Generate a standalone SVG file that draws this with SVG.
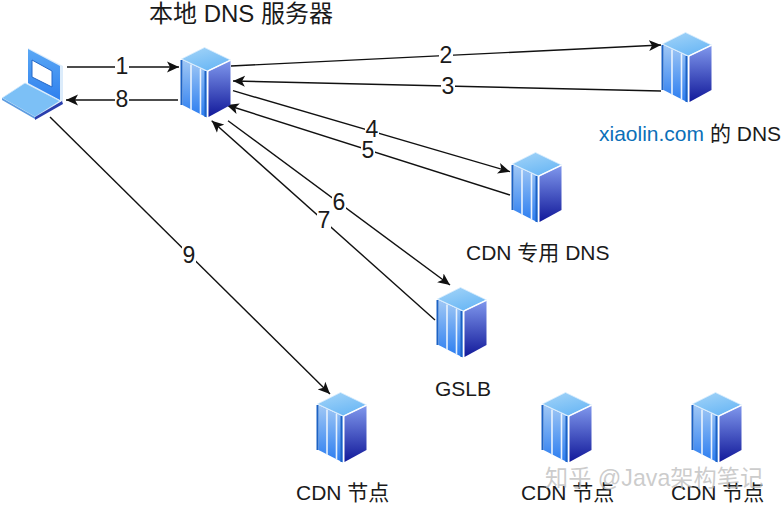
<svg xmlns="http://www.w3.org/2000/svg" width="783" height="510" viewBox="0 0 783 510">
<style>
text{font-family:"Liberation Sans","Noto Sans CJK SC",sans-serif;fill:#1a1a1a}
.t{font-size:21px}
.n{font-size:23px;text-anchor:middle}
.c line{stroke:#111;stroke-width:1.4;fill:none}
.a{marker-end:url(#ah)}
.bg{fill:#fff}
</style>
<defs>
<marker id="ah" markerUnits="userSpaceOnUse" markerWidth="14" markerHeight="12" refX="12" refY="6" orient="auto"><path d="M0,0.5L12,6L0,11.5L3,6Z" fill="#111"/></marker>
<linearGradient id="top" x1="0" y1="0" x2="0.5" y2="1"><stop offset="0" stop-color="#a5d5f8"/><stop offset="1" stop-color="#6cb8f5"/></linearGradient>
<linearGradient id="side" x1="0" y1="0" x2="0" y2="1"><stop offset="0" stop-color="#7f97ec"/><stop offset="1" stop-color="#12199a"/></linearGradient>
<linearGradient id="front" x1="0" y1="0" x2="0" y2="1"><stop offset="0" stop-color="#a0c8f5"/><stop offset="1" stop-color="#2a7cf0"/></linearGradient>
<linearGradient id="scr" x1="0" y1="0" x2="0" y2="1"><stop offset="0" stop-color="#5aa8f5"/><stop offset="1" stop-color="#2f80ee"/></linearGradient>
<g id="srv">
<path d="M1,12L26,24L27,71L1,58Z" fill="#fff"/>
<path d="M2.5,13L27,24.5V70.5L2.5,58Z" fill="url(#front)"/>
<path d="M24.5,0.5L50.5,13L27.5,24L1.5,12Z" fill="url(#top)" stroke="#d8ecfc" stroke-width="0.8"/>
<path d="M28.5,24.5L50.5,14V58L28.5,70Z" fill="url(#side)"/>
<path d="M1.5,13V58M25.5,24V70" stroke="#1c62c4" stroke-width="2" fill="none"/>
<path d="M11,17.5V63M20.5,21.5V67.5" stroke="#e8f2fd" stroke-width="1.6" fill="none"/>
<path d="M27.3,24V71M27.5,24L50.5,13" stroke="#fff" stroke-width="1.1" fill="none"/>
</g>
</defs>
<rect width="783" height="510" fill="#fff"/>
<g id="connectors" class="c">
<line class="a" x1="67" y1="67" x2="179" y2="67"/>
<line class="a" x1="178" y1="100" x2="66" y2="100"/>
<line class="a" x1="231" y1="66" x2="661" y2="45"/>
<line class="a" x1="661" y1="91" x2="233" y2="81"/>
<line class="a" x1="233" y1="90.7" x2="510" y2="171.7"/>
<line class="a" x1="510" y1="195" x2="226.7" y2="105"/>
<line class="a" x1="228" y1="120.7" x2="450" y2="285"/>
<line class="a" x1="435" y1="320" x2="211.7" y2="120.7"/>
<line class="a" x1="50" y1="117" x2="330" y2="394"/>
</g>
<g id="connector-labels">
<rect class="bg" x="115" y="55" width="14" height="22"/><text class="n" x="122" y="74">1</text>
<rect class="bg" x="115" y="89" width="14" height="22"/><text class="n" x="122" y="107">8</text>
<rect class="bg" x="439" y="44" width="14" height="22"/><text class="n" x="446" y="63">2</text>
<rect class="bg" x="441" y="75" width="14" height="22"/><text class="n" x="448" y="94">3</text>
<rect class="bg" x="365" y="120" width="14" height="19"/><text class="n" x="372" y="137">4</text>
<rect class="bg" x="361" y="140" width="14" height="19"/><text class="n" x="368" y="158">5</text>
<rect class="bg" x="332" y="192" width="14" height="21"/><text class="n" x="339" y="210">6</text>
<rect class="bg" x="317" y="210" width="14" height="22"/><text class="n" x="324" y="228">7</text>
<rect class="bg" x="182" y="243" width="14" height="24"/><text class="n" x="189" y="263">9</text>
</g>
<g id="laptop">
<path d="M28,48L63,66V102L28,84Z" fill="#dcecfb"/>
<path d="M28,49L60,66V100L28,83Z" fill="url(#scr)"/>
<path d="M32,60L52,71V87L32,77Z" fill="#fff" stroke="#2468c8" stroke-width="1"/>
<path d="M2,98L25,83L60,101L35,117Z" fill="#7cc0f6" stroke="#cfe7fb" stroke-width="0.8"/>
<path d="M35,117L62,101L63,104L35,120Z" fill="#2a3fae"/>
<path d="M2,98L35,117V119L2,100Z" fill="#5d9ce0"/>
</g>
<g id="local-dns"><use href="#srv" x="180" y="47"/><text x="149" y="22" font-size="24">本地 DNS 服务器</text></g>
<g id="xiaolin-dns"><use href="#srv" x="661" y="32"/><text class="t" x="599" y="141"><tspan style="fill:#0b6fb8">xiaolin.com</tspan> 的 DNS</text></g>
<g id="cdn-dns"><use href="#srv" x="511" y="152"/><text class="t" x="466" y="260">CDN 专用 DNS</text></g>
<g id="gslb"><use href="#srv" x="436" y="287"/><text class="t" x="435" y="396">GSLB</text></g>
<g id="cdn1"><use href="#srv" x="316" y="392"/><text class="t" x="296" y="500">CDN 节点</text></g>
<g id="cdn2"><use href="#srv" x="541" y="392"/><text class="t" x="521" y="500">CDN 节点</text></g>
<g id="cdn3"><use href="#srv" x="691" y="392"/><text class="t" x="671" y="500">CDN 节点</text></g>
<text x="545" y="486" font-size="23.2" style="fill:#bbb;fill-opacity:.75">知乎 @Java架构笔记</text>
</svg>
